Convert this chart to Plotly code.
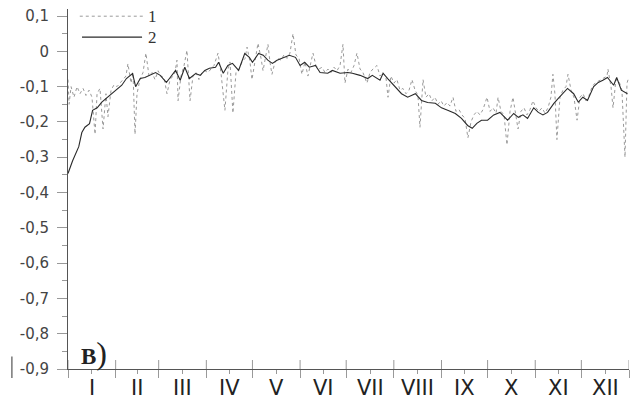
import plotly.graph_objects as go

# ---- data (day of year, value) ----
days_2 = [0, 3, 7, 9, 11, 14, 16, 19, 22, 25, 29, 32, 35, 38, 42, 44, 47, 50, 53, 57,
          60, 64, 66, 70, 73, 76, 79, 83, 86, 89, 92, 96, 98, 101, 104, 107, 111, 115, 118, 120,
          124, 127, 130, 133, 136, 140, 144, 148, 151, 154, 157, 161, 164, 169, 172, 177, 182, 185, 190, 195,
          198, 203, 205, 208, 213, 217, 221, 226, 230, 234, 239, 243, 247, 252, 256, 260, 263, 266, 269, 273,
          277, 281, 286, 290, 293, 296, 299, 303, 306, 309, 312, 316, 319, 322, 325, 329, 332, 335, 338, 342,
          345, 348, 351, 355, 357, 360, 364]
vals_2 = [-0.346, -0.31, -0.27, -0.23, -0.215, -0.205, -0.167, -0.16, -0.144, -0.133, -0.116, -0.105, -0.096, -0.077, -0.063, -0.10, -0.077, -0.074, -0.068, -0.06,
          -0.068, -0.088, -0.077, -0.054, -0.082, -0.045, -0.077, -0.063, -0.068, -0.054, -0.048, -0.045, -0.031, -0.062, -0.040, -0.034, -0.054, -0.006, -0.017, -0.031,
          -0.006, -0.011, -0.025, -0.034, -0.025, -0.017, -0.011, -0.017, -0.040, -0.031, -0.045, -0.040, -0.060, -0.062, -0.054, -0.062, -0.060, -0.062, -0.068, -0.077,
          -0.068, -0.082, -0.062, -0.077, -0.100, -0.120, -0.130, -0.120, -0.139, -0.145, -0.147, -0.160, -0.167, -0.176, -0.190, -0.210, -0.218, -0.204, -0.195, -0.195,
          -0.180, -0.173, -0.195, -0.176, -0.187, -0.180, -0.190, -0.160, -0.173, -0.180, -0.173, -0.148, -0.133, -0.120, -0.105, -0.120, -0.144, -0.130, -0.139, -0.100,
          -0.088, -0.082, -0.074, -0.096, -0.074, -0.110, -0.120]

days_1 = [0, 0.7, 2.0, 3.9, 5.9, 7.8, 9.8, 11.7, 13.7, 15.6, 17.6, 18.9, 20.8, 22.8, 24.7, 26.0, 28.0, 29.9, 31.9, 33.8,
          35.8, 37.7, 39.0, 41.0, 42.3, 43.6, 44.9, 46.8, 48.8, 50.7, 52.7, 54.7, 56.6, 58.6, 60.5, 62.5, 64.4, 66.4, 68.3, 69.6,
          70.9, 71.6, 73.5, 75.5, 77.4, 79.4, 81.3, 83.3, 85.2, 87.2, 89.1, 91.1, 93.0, 95.0, 97.6, 99.5, 102.1, 104.1, 105.4, 107.3,
          109.3, 111.3, 113.2, 115.2, 116.5, 118.4, 119.7, 121.7, 123.6, 125.6, 126.9, 128.8, 130.1, 131.4, 132.7, 134.7, 136.6, 138.6, 140.5, 142.5,
          144.4, 146.4, 148.3, 150.3, 152.2, 154.2, 156.1, 158.1, 159.4, 161.3, 163.3, 165.3, 167.2, 169.2, 171.1, 173.1, 175.0, 177.0, 178.9, 180.2,
          182.2, 184.1, 186.1, 188.0, 190.0, 191.9, 194.5, 196.5, 198.4, 201.0, 203.0, 204.9, 206.9, 208.2, 210.1, 212.1, 214.0, 216.0, 217.9, 219.9,
          221.9, 223.8, 225.8, 227.7, 229.0, 231.0, 232.9, 234.9, 236.8, 238.8, 240.7, 242.7, 244.6, 246.6, 248.5, 250.5, 252.4, 254.4, 256.3, 258.3,
          260.2, 262.2, 264.1, 266.1, 268.0, 270.0, 272.6, 274.6, 276.5, 278.5, 279.8, 281.7, 283.7, 285.6, 287.6, 289.5, 291.5, 292.8, 294.7, 296.7,
          298.6, 300.6, 302.5, 304.5, 306.4, 308.4, 310.3, 312.3, 314.2, 315.5, 316.8, 318.1, 320.1, 322.0, 324.0, 325.3, 327.3, 329.2, 331.2, 333.1,
          335.1, 337.0, 339.0, 341.0, 342.9, 344.8, 346.8, 348.7, 350.7, 351.3, 353.3, 354.6, 356.5, 358.5, 360.4, 362.4, 363.7, 364.4]
vals_1 = [-0.08, -0.15, -0.10, -0.13, -0.10, -0.12, -0.105, -0.125, -0.11, -0.13, -0.235, -0.12, -0.105, -0.22, -0.12, -0.185, -0.11, -0.095, -0.10, -0.09,
          -0.08, -0.07, -0.035, -0.09, -0.06, -0.235, -0.12, -0.08, -0.06, -0.005, -0.07, -0.06, -0.08, -0.055, -0.07, -0.075, -0.12, -0.08, -0.07, -0.06,
          -0.025, -0.14, -0.07, -0.04, 0.003, -0.14, -0.07, -0.06, -0.08, -0.06, -0.055, -0.06, -0.05, -0.04, -0.005, -0.06, -0.167, -0.05, -0.03, -0.175,
          -0.06, -0.05, -0.03, -0.02, 0.012, -0.03, -0.08, -0.03, 0.023, -0.02, -0.055, -0.01, 0.02, -0.03, -0.065, -0.03, -0.02, -0.025, -0.01, -0.02,
          -0.005, 0.05, -0.01, -0.02, -0.065, -0.03, -0.07, -0.03, -0.005, -0.04, -0.05, -0.045, -0.06, -0.05, -0.06, -0.045, -0.055, -0.04, 0.02, -0.09,
          -0.05, -0.06, -0.04, -0.005, -0.05, -0.06, -0.09, -0.06, -0.05, -0.04, -0.07, -0.06, -0.075, -0.13, -0.07, -0.09, -0.08, -0.11, -0.105, -0.12,
          -0.11, -0.08, -0.11, -0.125, -0.215, -0.08, -0.13, -0.12, -0.14, -0.13, -0.15, -0.14, -0.155, -0.145, -0.155, -0.13, -0.17, -0.165, -0.18, -0.19,
          -0.245, -0.20, -0.18, -0.17, -0.18, -0.165, -0.13, -0.17, -0.16, -0.175, -0.13, -0.17, -0.18, -0.265, -0.17, -0.13, -0.19, -0.22, -0.17, -0.16,
          -0.18, -0.165, -0.14, -0.16, -0.17, -0.16, -0.175, -0.16, -0.13, -0.065, -0.12, -0.25, -0.13, -0.11, -0.10, -0.065, -0.11, -0.13, -0.195, -0.13,
          -0.12, -0.14, -0.125, -0.10, -0.09, -0.085, -0.08, -0.075, -0.07, -0.05, -0.10, -0.16, -0.08, -0.085, -0.11, -0.30, -0.09, -0.08]

month_bounds = [0, 31, 59, 90, 120, 151, 181, 212, 243, 273, 304, 334, 365]
month_mids = [15.5, 45, 74.5, 105, 135.5, 166, 196.5, 227.5, 258, 288.5, 319, 349.5]
month_labels = ["I", "II", "III", "IV", "V", "VI", "VII", "VIII", "IX", "X", "XI", "XII"]

y_ticks = [0.1, 0, -0.1, -0.2, -0.3, -0.4, -0.5, -0.6, -0.7, -0.8, -0.9]
y_ticktext = ["0,1", "0", "-0,1", "-0,2", "-0,3", "-0,4", "-0,5", "-0,6", "-0,7", "-0,8", "-0,9"]

series_names = ["1", "2"]

fig = go.Figure()
fig.add_trace(go.Scatter(x=days_1, y=vals_1, mode="lines", name=series_names[0],
                         line=dict(color="#9a9a9a", width=1, dash="dot"), showlegend=False))
fig.add_trace(go.Scatter(x=days_2, y=vals_2, mode="lines", name=series_names[1],
                         line=dict(color="#2a2a2a", width=1.1), showlegend=False))

fig.update_layout(
    width=630, height=400,
    margin=dict(l=68, r=1, t=9, b=31),
    paper_bgcolor="white", plot_bgcolor="white",
    font=dict(family="DejaVu Sans", color="#333"),
)
fig.update_xaxes(
    range=[0, 365], showgrid=False, zeroline=False,
    showline=True, linecolor="#555", linewidth=1,
    tickmode="array", tickvals=month_bounds, ticktext=[""] * len(month_bounds),
    ticks="outside", ticklen=8, tickcolor="#999", tickwidth=1,
    minor=dict(tickmode="array", tickvals=month_mids, ticks="outside", ticklen=4, tickcolor="#999"),
)
fig.update_yaxes(
    range=[-0.9, 0.12], showgrid=False, zeroline=False,
    showline=True, linecolor="#555", linewidth=1,
    tickmode="array", tickvals=y_ticks, ticktext=y_ticktext,
    ticks="outside", ticklen=10, tickcolor="#999", tickwidth=1,
    tickfont=dict(family="DejaVu Sans", size=15, color="#444"),
    ticklabelstandoff=5, ticklabeloverflow="allow",
    minor=dict(dtick=0.05, tick0=0, ticks="outside", ticklen=5, tickcolor="#999"),
)

# inner part of the month boundary ticks (they cross the axis)
for b in month_bounds:
    fig.add_shape(type="line", xref="x", yref="paper", x0=b, x1=b, y0=0, y1=0.025,
                  line=dict(color="#999", width=1))

# month labels
for m, lab in zip(month_mids, month_labels):
    fig.add_annotation(x=m, xref="x", y=-0.052, yref="paper", text=lab, showarrow=False,
                       xanchor="center", yanchor="middle",
                       font=dict(family="DejaVu Sans", size=21, color="#222"))

# legend drawn by hand (long line samples)
fig.add_shape(type="line", xref="paper", yref="paper", x0=0.021, x1=0.134, y0=0.980, y1=0.980,
              line=dict(color="#9a9a9a", width=1, dash="dot"))
fig.add_shape(type="line", xref="paper", yref="paper", x0=0.025, x1=0.132, y0=0.922, y1=0.922,
              line=dict(color="#2a2a2a", width=1.1))
fig.add_annotation(x=0.139, xref="paper", y=0.980, yref="paper", text=series_names[0], showarrow=False,
                   xanchor="left", yanchor="middle", font=dict(family="Liberation Serif", size=17, color="#333"))
fig.add_annotation(x=0.139, xref="paper", y=0.920, yref="paper", text=series_names[1], showarrow=False,
                   xanchor="left", yanchor="middle", font=dict(family="Liberation Serif", size=17, color="#333"))

# panel label
fig.add_annotation(x=0.019, xref="paper", y=0.045, yref="paper",
                   text="<b>В</b><span style='font-size:32px'>)</span>", showarrow=False,
                   xanchor="left", yanchor="middle", font=dict(family="Liberation Serif", size=23, color="#222"))

# stray mark at the left edge
fig.add_shape(type="line", xref="paper", yref="paper", x0=-0.1, x1=-0.1, y0=-0.025, y1=0.035,
              line=dict(color="#555", width=1.2))

# remove the default page margin so the 630x400 figure fills the window
fig.write_html("out.html", config={"displayModeBar": False},
               post_script="document.body.style.margin='0px';document.documentElement.style.overflow='hidden';")
